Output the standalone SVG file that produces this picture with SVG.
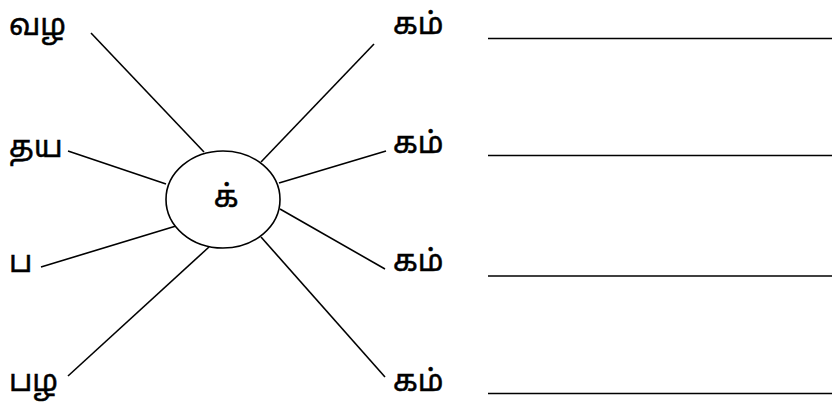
<svg xmlns="http://www.w3.org/2000/svg" width="832" height="403" viewBox="0 0 832 403">
<style>
.t{font-family:"Noto Sans Tamil","Noto Sans","Liberation Sans",sans-serif;font-size:30px;fill:#000;stroke:#000;stroke-width:0.5}
.c line{stroke:#000;stroke-width:1.6}
.u{stroke:#000;stroke-width:1.3}
</style>
<rect width="832" height="403" fill="#fff"/>
<g class="c" id="connectors">
<line x1="91" y1="33" x2="204" y2="152"/>
<line x1="68" y1="151" x2="166" y2="184"/>
<line x1="41" y1="267" x2="176" y2="226"/>
<line x1="68" y1="376" x2="209" y2="247"/>
<line x1="374" y1="44" x2="261" y2="162"/>
<line x1="386" y1="151" x2="279" y2="183"/>
<line x1="385" y1="269" x2="280" y2="209"/>
<line x1="385" y1="377" x2="261" y2="237"/>
</g>
<g id="center">
<ellipse cx="223" cy="199.5" rx="57" ry="48.5" fill="#fff" stroke="#000" stroke-width="1.6"/>
<text class="t" x="226" y="207" text-anchor="middle">க்</text>
</g>
<g id="n1"><text class="t" x="9" y="35">வழ</text></g>
<g id="n2"><text class="t" x="9" y="157">தய</text></g>
<g id="n3"><text class="t" x="9" y="272">ப</text></g>
<g id="n4"><text class="t" x="9" y="391">பழ</text></g>
<g id="n5"><text class="t" x="393" y="34">கம்</text><line class="u" x1="488" y1="38.5" x2="832" y2="38.5"/></g>
<g id="n6"><text class="t" x="393" y="153">கம்</text><line class="u" x1="488" y1="155.5" x2="832" y2="155.5"/></g>
<g id="n7"><text class="t" x="393" y="271">கம்</text><line class="u" x1="488" y1="276" x2="832" y2="276"/></g>
<g id="n8"><text class="t" x="393" y="391">கம்</text><line class="u" x1="488" y1="393.5" x2="832" y2="393.5"/></g>
</svg>
